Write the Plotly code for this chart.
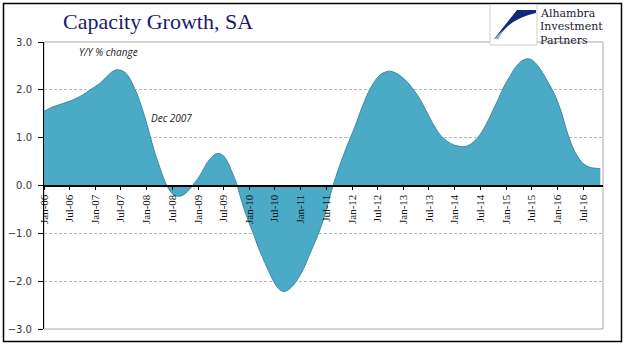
import plotly.graph_objects as go

# ---- data, monthly from Jan 2006 ----
start_year, start_month = 2006, 1
growth = [
    1.55, 1.60, 1.64, 1.67, 1.70, 1.73, 1.76, 1.80, 1.84, 1.89, 1.95, 2.01,   # 2006
    2.07, 2.13, 2.21, 2.30, 2.38, 2.42, 2.41, 2.36, 2.25, 2.07, 1.86, 1.60,   # 2007
    1.30, 0.97, 0.67, 0.40, 0.15, -0.05, -0.17, -0.22, -0.22, -0.17, -0.08, 0.03,  # 2008
    0.15, 0.30, 0.45, 0.57, 0.65, 0.67, 0.62, 0.48, 0.27, 0.05, -0.27, -0.55,  # 2009
    -0.80, -1.03, -1.26, -1.48, -1.68, -1.88, -2.05, -2.17, -2.22, -2.19, -2.11, -2.00,  # 2010
    -1.85, -1.67, -1.47, -1.26, -1.05, -0.80, -0.52, -0.18, 0.12, 0.38, 0.63, 0.86,  # 2011
    1.08, 1.31, 1.55, 1.78, 1.98, 2.14, 2.26, 2.34, 2.38, 2.39, 2.36, 2.31,   # 2012
    2.24, 2.15, 2.05, 1.93, 1.79, 1.62, 1.45, 1.28, 1.13, 1.02, 0.94, 0.88,   # 2013
    0.84, 0.82, 0.81, 0.83, 0.88, 0.96, 1.07, 1.22, 1.39, 1.58, 1.77, 1.97,   # 2014
    2.15, 2.30, 2.44, 2.55, 2.62, 2.65, 2.63, 2.55, 2.43, 2.29, 2.13, 1.97,   # 2015
    1.76, 1.50, 1.20, 0.93, 0.72, 0.57, 0.46, 0.40, 0.37, 0.36, 0.35,         # 2016 (Jan-Nov)
]
dates = []
for i in range(len(growth)):
    y = start_year + (start_month - 1 + i) // 12
    m = (start_month - 1 + i) % 12 + 1
    dates.append(f"{y}-{m:02d}-01")

tick_dates = [f"{y}-{m:02d}-01" for y in range(2006, 2017) for m in (1, 7)]
tick_text = [f"{'Jan' if m == 1 else 'Jul'}-{y % 100:02d}" for y in range(2006, 2017) for m in (1, 7)]
y_ticks = [-3, -2, -1, 0, 1, 2, 3]

title_text = "Capacity Growth, SA"
note_text = "Y/Y % change"
event_text = "Dec 2007"
logo_lines = ["Alhambra", "Investment", "Partners"]

# ---- geometry helpers (pixel -> paper) ----
W, H = 641, 358
L, R, T, B = 44, 603, 42, 329


def px(x):
    return (x - L) / (R - L)


def py(y):
    return (B - y) / (B - T)


fig = go.Figure()
fig.add_trace(go.Scatter(
    x=dates, y=growth, mode="lines", line=dict(color="#3b88a3", width=1, shape="spline", smoothing=0.8),
    fill="tozeroy", fillcolor="#4babc6", hoverinfo="skip", showlegend=False))

shapes = []
shapes.append(dict(type="rect", xref="paper", yref="paper", x0=0, x1=1, y0=0, y1=1,
                   line=dict(color="#a8a8a8", width=1), layer="below"))
shapes.append(dict(type="rect", xref="paper", yref="paper", x0=px(3.5), x1=px(621.5), y0=py(341.5), y1=py(3.5),
                   line=dict(color="#000000", width=1.5)))
shapes.append(dict(type="rect", xref="paper", yref="paper", x0=px(490), x1=px(537), y0=py(45), y1=py(4.5),
                   line=dict(color="#d0d0d0", width=1), fillcolor="white"))
path = "M {:.4f},{:.4f} L {:.4f},{:.4f} L {:.4f},{:.4f} Q {:.4f},{:.4f} {:.4f},{:.4f} L {:.4f},{:.4f} Z".format(
    px(517), py(10), px(536), py(10), px(536), py(13), px(508), py(19), px(498), py(39), px(494), py(39))
shapes.append(dict(type="path", xref="paper", yref="paper", path=path, fillcolor="#102a7a", line=dict(width=0)))
path2 = "M {:.4f},{:.4f} L {:.4f},{:.4f} L {:.4f},{:.4f} Z".format(
    px(494), py(39), px(498), py(39), px(503), py(30))
shapes.append(dict(type="path", xref="paper", yref="paper", path=path2, fillcolor="#8fb3e0", line=dict(width=0)))

annotations = [
    dict(text=title_text, xref="paper", yref="paper", x=px(61), y=py(22), xanchor="left", yanchor="middle",
         showarrow=False, font=dict(family="Liberation Serif", size=22, color="#1b1b6b")),
    dict(text="<i>" + note_text + "</i>", xref="paper", yref="paper", x=px(77), y=py(52), xanchor="left",
         yanchor="middle", showarrow=False, font=dict(family="Open Sans", size=10, color="#222222")),
    dict(text="<i>" + event_text + "</i>", xref="paper", yref="paper", x=px(149), y=py(118), xanchor="left",
         yanchor="middle", showarrow=False, font=dict(family="Open Sans", size=10, color="#222222")),
]
for i, t in enumerate(logo_lines):
    annotations.append(dict(text=t, xref="paper", yref="paper", x=px(539), y=py(14 + 13 * i), xanchor="left",
                            yanchor="middle", showarrow=False, height=11, borderpad=0,
                            font=dict(family="DejaVu Serif", size=11, color="#1a1a33")))

fig.update_layout(
    width=W, height=H,
    margin=dict(l=L, r=W - R, t=T, b=H - B, pad=0),
    paper_bgcolor="white", plot_bgcolor="white",
    shapes=shapes, annotations=annotations,
    xaxis=dict(type="date", range=["2006-01-01", "2016-11-20"], tickmode="array",
               tickvals=tick_dates, ticktext=tick_text, tickangle=-90, automargin=False,
               anchor="free", position=0.5, showline=True, linecolor="#000000", linewidth=1.5,
               ticks="outside", ticklen=4, tickcolor="#000000", showgrid=False, zeroline=False,
               tickfont=dict(family="Liberation Serif", size=11, color="#111111")),
    yaxis=dict(range=[-3, 3], tickmode="array", tickvals=y_ticks, ticksuffix="%", tickformat=".1f",
               showline=True, linecolor="#000000", linewidth=1, ticks="outside", ticklen=5,
               tickcolor="#000000", showgrid=True, gridcolor="#b8b8b8", griddash="3px,2px", gridwidth=1,
               zeroline=False, ticklabelstandoff=4, automargin=False,
               tickfont=dict(family="DejaVu Sans", size=10, color="#333333")),
)

fig.write_html("out.html", config={"displayModeBar": False},
               post_script="document.body.style.margin='0';")
